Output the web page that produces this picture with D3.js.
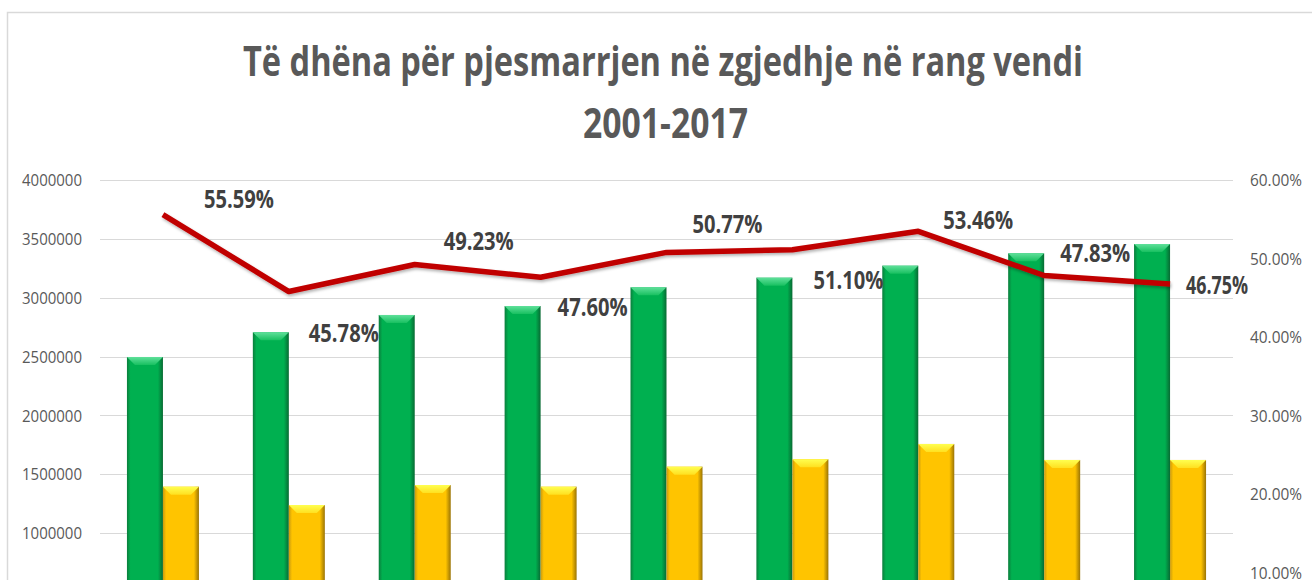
<!DOCTYPE html>
<html>
<head>
<meta charset="utf-8">
<script src="https://cdn.jsdelivr.net/npm/d3@7/dist/d3.min.js"></script>
<style>
  html, body { margin: 0; padding: 0; background: #ffffff; overflow: hidden; }
  svg { display: block; }
</style>
</head>
<body>
<svg id="chart" width="1312" height="580"></svg>
<script>
// ---------- data ----------
const categories = ["2001", "2003", "2005", "2007", "2009", "2011", "2013", "2015", "2017"];
const registered = [2496000, 2706000, 2853000, 2929000, 3088000, 3170000, 3272000, 3377000, 3456000];
const voted      = [1394000, 1238000, 1408000, 1394000, 1564000, 1627000, 1757000, 1621000, 1621000];
const turnout    = [55.59, 45.78, 49.23, 47.60, 50.77, 51.10, 53.46, 47.83, 46.75];
const leftTicks  = [1000000, 1500000, 2000000, 2500000, 3000000, 3500000, 4000000];
const rightTicks = [10, 20, 30, 40, 50, 60];
const titleLines = ["Të dhëna për pjesmarrjen në zgjedhje në rang vendi", "2001-2017"];

// ---------- layout / style ----------
const plot = { left: 100, right: 1233, top: 180, bottom: 650.7 };
const labelOffsets = [[76,-16],[55,41],[64,-23],[52,30],[61,-28],[56,30],[60,-11],[51,-22],[47,1]];
const textGray = "#595959";

const svg = d3.select("#chart");
const defs = svg.append("defs");

function hGrad(id, stops) {
  const g = defs.append("linearGradient").attr("id", id)
    .attr("x1", "0%").attr("x2", "100%").attr("y1", "0%").attr("y2", "0%");
  stops.forEach(s => g.append("stop").attr("offset", s[0]).attr("stop-color", s[1]));
}
function vGrad(id, stops) {
  const g = defs.append("linearGradient").attr("id", id)
    .attr("x1", "0%").attr("x2", "0%").attr("y1", "0%").attr("y2", "100%");
  stops.forEach(s => g.append("stop").attr("offset", s[0]).attr("stop-color", s[1]));
}
hGrad("gGreen", [["0%", "#0b7d3c"], ["10%", "#00b050"], ["86%", "#00b050"], ["100%", "#086a33"]]);
vGrad("gGreenTop", [["0%", "#5fe09a"], ["100%", "#18c060"]]);
hGrad("gYellow", [["0%", "#c99a10"], ["9%", "#ffc400"], ["86%", "#ffc400"], ["100%", "#9a7405"]]);
vGrad("gYellowTop", [["0%", "#ffff50"], ["100%", "#ffe020"]]);

const shadow = defs.append("filter").attr("id", "lineShadow")
  .attr("x", "-5%").attr("y", "-20%").attr("width", "110%").attr("height", "140%");
shadow.append("feDropShadow").attr("dx", 1).attr("dy", 2).attr("stdDeviation", 1.5)
  .attr("flood-color", "#000").attr("flood-opacity", 0.3);

// chart border
svg.append("rect").attr("x", 7.5).attr("y", 12.5).attr("width", 1400).attr("height", 800)
  .attr("fill", "#fff").attr("stroke", "#d9d9d9").attr("stroke-width", 1.5);

// ---------- scales ----------
const x = d3.scaleBand().domain(categories).range([plot.left, plot.right]).padding(0);
const series = ["registered", "voted"];
const halfW = 36;
const xs = d3.scaleBand().domain(series).range([-halfW, halfW]).padding(0);
const yL = d3.scaleLinear().domain([0, 4000000]).range([plot.bottom, plot.top]);
const yR = d3.scaleLinear().domain([0, 60]).range([plot.bottom, plot.top]);
const cx = c => x(c) + x.bandwidth() / 2;

// ---------- gridlines ----------
svg.append("g").selectAll("line").data(leftTicks).join("line")
  .attr("x1", plot.left).attr("x2", plot.right)
  .attr("y1", d => Math.round(yL(d)) + 0.5).attr("y2", d => Math.round(yL(d)) + 0.5)
  .attr("stroke", "#d9d9d9").attr("stroke-width", 1);

// ---------- axes ----------
const axL = svg.append("g").attr("transform", `translate(${plot.left},0)`)
  .call(d3.axisLeft(yL).tickValues(leftTicks).tickFormat(d3.format("d")).tickSize(0).tickPadding(18));
axL.select(".domain").remove();
axL.selectAll("text")
  .attr("font-family", "'Open Sans', sans-serif").attr("font-size", 17).attr("fill", textGray)
  .attr("textLength", 60).attr("lengthAdjust", "spacingAndGlyphs").attr("dy", "0.34em");

const axR = svg.append("g").attr("transform", `translate(${plot.right},0)`)
  .call(d3.axisRight(yR).tickValues(rightTicks).tickFormat(d => d3.format(".2f")(d) + "%").tickSize(0).tickPadding(17));
axR.select(".domain").remove();
axR.selectAll("text")
  .attr("font-family", "'Open Sans', sans-serif").attr("font-size", 17).attr("fill", textGray)
  .attr("textLength", 52).attr("lengthAdjust", "spacingAndGlyphs").attr("dy", "0.34em");

// ---------- bars ----------
const rows = categories.map((c, i) => ({ c, registered: registered[i], voted: voted[i] }));
const barStyle = {
  registered: { body: "url(#gGreen)", top: "url(#gGreenTop)" },
  voted: { body: "url(#gYellow)", top: "url(#gYellowTop)" }
};
const barG = svg.append("g");
rows.forEach(r => {
  series.forEach(s => {
    const bx = cx(r.c) + xs(s);
    const bw = xs.bandwidth();
    const by = yL(r[s]);
    const bh = plot.bottom - by;
    barG.append("rect").attr("x", bx).attr("y", by).attr("width", bw).attr("height", bh)
      .attr("fill", barStyle[s].body);
    const bev = 8;
    barG.append("path")
      .attr("d", `M${bx},${by} L${bx + bw},${by} L${bx + bw - bev},${by + bev} L${bx + bev},${by + bev} Z`)
      .attr("fill", barStyle[s].top);
  });
});

// ---------- line ----------
const line = d3.line().x((d, i) => cx(categories[i])).y(d => yR(d));
svg.append("path").datum(turnout).attr("d", line)
  .attr("fill", "none").attr("stroke", "#c00000").attr("stroke-width", 5.5)
  .attr("stroke-linejoin", "round").attr("stroke-linecap", "butt")
  .attr("filter", "url(#lineShadow)");

// ---------- data labels ----------
const labelW = [70, 70, 70, 70, 70, 70, 70, 70, 62];
svg.append("g").selectAll("text").data(turnout).join("text")
  .attr("x", (d, i) => cx(categories[i]) + labelOffsets[i][0] - labelW[i] / 2)
  .attr("y", (d, i) => yR(d) + labelOffsets[i][1] + 9)
  .attr("font-family", "'Open Sans', sans-serif").attr("font-weight", 700)
  .attr("font-size", 25).attr("fill", "#404040")
  .attr("textLength", (d, i) => labelW[i]).attr("lengthAdjust", "spacingAndGlyphs")
  .text(d => d3.format(".2f")(d) + "%");

// ---------- title ----------
svg.append("text").attr("x", 243).attr("y", 76)
  .attr("font-family", "'Open Sans', sans-serif").attr("font-weight", 700).attr("font-size", 42)
  .attr("fill", textGray).attr("textLength", 840).attr("lengthAdjust", "spacingAndGlyphs")
  .text(titleLines[0]);
svg.append("text").attr("x", 583).attr("y", 138)
  .attr("font-family", "'Open Sans', sans-serif").attr("font-weight", 700).attr("font-size", 42)
  .attr("fill", textGray).attr("textLength", 165).attr("lengthAdjust", "spacingAndGlyphs")
  .text(titleLines[1]);
</script>
</body>
</html>
